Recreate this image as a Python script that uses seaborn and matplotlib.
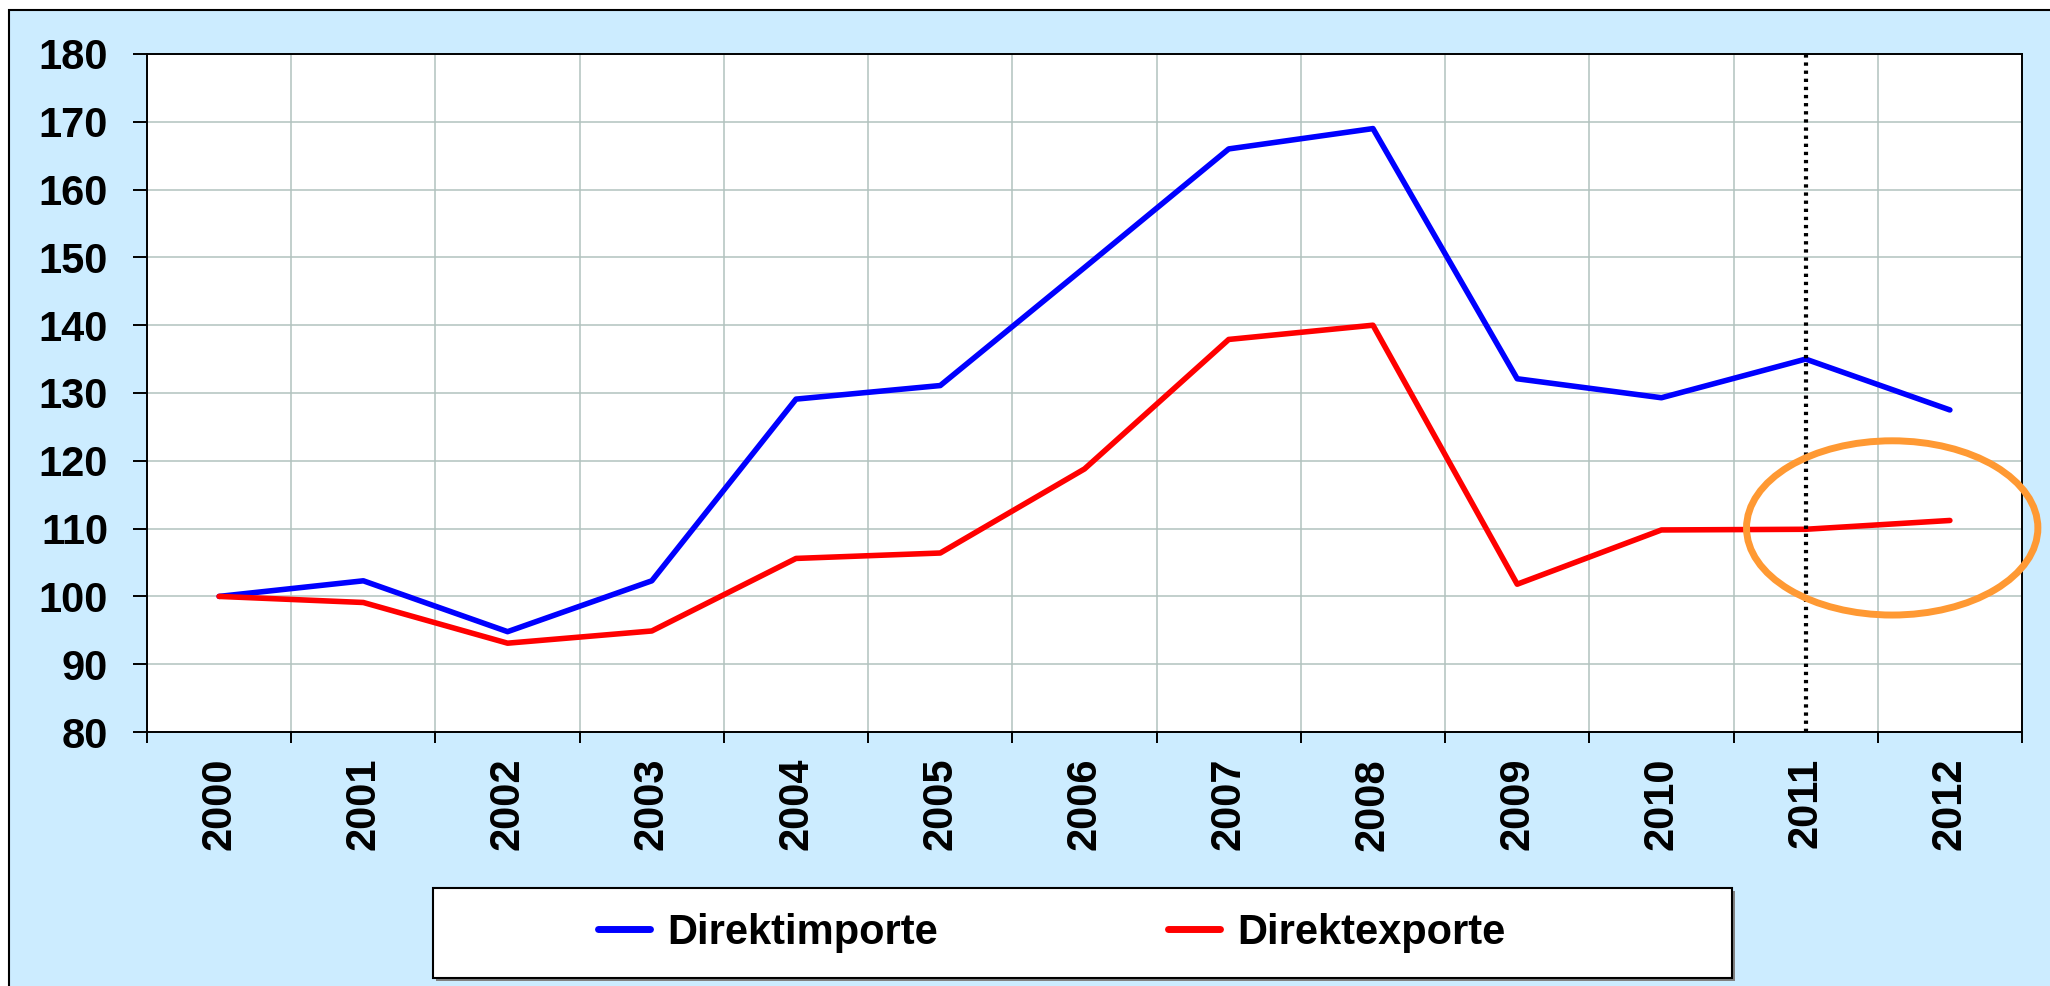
#%% Package Imports

import matplotlib
matplotlib.use('Agg')
import matplotlib.pyplot as plt
from matplotlib.patches import Rectangle, Ellipse
from matplotlib.lines import Line2D
import seaborn as sns
import pandas as pd
import numpy as np

#%% Data (index, 2000 = 100)

years = [2000, 2001, 2002, 2003, 2004, 2005, 2006, 2007, 2008, 2009, 2010, 2011, 2012]
direktimporte = [100, 102.3, 94.8, 102.3, 129.1, 131.1, 148.5, 166.0, 169.0, 132.1, 129.3, 135.0, 127.5]
direktexporte = [100, 99.1, 93.1, 94.9, 105.6, 106.4, 118.8, 137.9, 140.0, 101.8, 109.8, 109.9, 111.2]
series_names = ['Direktimporte', 'Direktexporte']
series_colors = ['#0000FF', '#FF0000']

df = pd.DataFrame({
    'Jahr': years * 2,
    'Index': direktimporte + direktexporte,
    'Reihe': [series_names[0]] * len(years) + [series_names[1]] * len(years)})

#%% Style

plt.rcParams['font.family'] = ['Liberation Sans', 'DejaVu Sans']
plt.rcParams['font.weight'] = 'bold'

W, H = 2050, 986
fig = plt.figure(figsize=(W / 100, H / 100), dpi=100)
fig.patch.set_facecolor('white')

# light blue chart area with black border (left/top visible)
fig.patches.append(Rectangle((9 / W, -0.02), 1.2, 1.02 - 10 / H,
                             transform=fig.transFigure, facecolor='#CCECFF',
                             edgecolor='black', lw=1.5, zorder=-10))

ax = fig.add_axes([147 / W, 1 - 732 / H, (2022 - 147) / W, (732 - 54) / H])
ax.set_facecolor('white')

#%% Plot lines

sns.lineplot(data=df, x='Jahr', y='Index', hue='Reihe',
             palette=dict(zip(series_names, series_colors)),
             linewidth=4.0, sort=False, errorbar=None, legend=False,
             solid_capstyle='round', ax=ax)

ax.set_xlim(1999.5, 2012.5)
ax.set_ylim(80, 180)
ax.set_xlabel('')
ax.set_ylabel('')

ax.set_yticks(np.arange(80, 181, 10))
ax.set_xticks(years)
ax.set_xticks(np.arange(1999.5, 2013, 1), minor=True)
ax.set_xticklabels([str(y) for y in years], rotation=90, va='top', ha='center')
ax.tick_params(axis='x', which='major', length=0, pad=18.7, labelsize=30)
ax.tick_params(axis='x', which='minor', length=8, width=1.4, direction='out')
ax.tick_params(axis='y', which='major', length=10, width=1.4, direction='out',
               pad=18, labelsize=30)
for lab in ax.get_xticklabels() + ax.get_yticklabels():
    lab.set_fontweight('bold')

ax.set_axisbelow(True)
ax.grid(True, axis='x', which='minor', color='#B2C2BE', lw=1.1)
ax.grid(True, axis='y', which='major', color='#B2C2BE', lw=1.1)
ax.grid(False, axis='x', which='major')
for sp in ax.spines.values():
    sp.set_color('black')
    sp.set_linewidth(1.4)

#%% Highlight 2011 and the export trend

ax.axvline(2011, color='black', lw=3.0, linestyle=(0, (0.8, 1.15)), zorder=5)
ax.add_patch(Ellipse((2011.6, 110.1), 2.02, 25.7, fill=False,
                     edgecolor='#FF9933', lw=5, clip_on=False, zorder=6))

#%% Legend

fig.patches.append(Rectangle((436 / W, 1 - 981 / H), 1299 / W, 90 / H,
                             transform=fig.transFigure, facecolor='#808080',
                             edgecolor='none', zorder=1))
fig.patches.append(Rectangle((433 / W, 1 - 978 / H), 1299 / W, 90 / H,
                             transform=fig.transFigure, facecolor='white',
                             edgecolor='black', lw=1.5, zorder=2))

handles = [Line2D([], [], color=c, lw=5, solid_capstyle='round') for c in series_colors]
fig.legend(handles, series_names, loc='center left',
           bbox_to_anchor=(598 / W, 1 - 933 / H), bbox_transform=fig.transFigure,
           ncol=2, frameon=False, borderpad=0, borderaxespad=0,
           handlelength=1.25, handletextpad=0.42, columnspacing=5.5,
           prop={'size': 30, 'weight': 'bold'})

fig.savefig('out.png', dpi=100)
